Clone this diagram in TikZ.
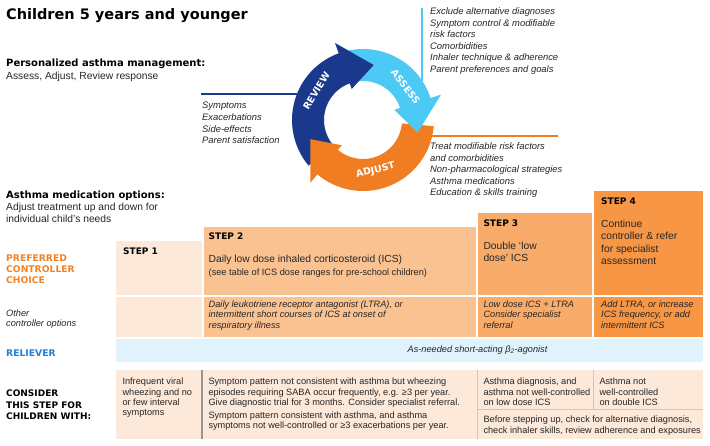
\documentclass[tikz,border=0pt]{standalone}
\usepackage{fontspec}
\setmainfont{Liberation Sans}
\newfontfamily\heavyfont{DejaVu Sans}
\usepackage{xcolor}
\usepackage{tikz}
\usetikzlibrary{positioning, calc}
\definecolor{reviewblue}{RGB}{27,57,140}
\definecolor{assessblue}{RGB}{76,201,245}
\definecolor{adjustorange}{RGB}{241,125,34}
\definecolor{stepone}{RGB}{253,233,218}
\definecolor{steptwo}{RGB}{250,193,145}
\definecolor{stepthree}{RGB}{249,171,106}
\definecolor{stepfour}{RGB}{247,150,68}
\definecolor{relieverfill}{RGB}{224,242,251}
\definecolor{relievertext}{RGB}{30,128,218}
\definecolor{prefcolor}{RGB}{243,130,36}
\definecolor{inktext}{RGB}{38,38,38}
\definecolor{sepgray}{RGB}{150,150,150}
\definecolor{sepgraylight}{RGB}{200,200,200}

\begin{document}
\begin{tikzpicture}[
    x=1pt, y=-1pt,
    heading/.style={anchor=base west, inner sep=0pt, text=black, font=\heavyfont\bfseries\fontsize{10}{12}\selectfont},
    plain/.style={anchor=north west, inner sep=0pt, align=left, text=inktext, font=\fontsize{10.3}{12}\selectfont},
    cyclelist/.style={anchor=north west, inner sep=0pt, align=left, text=inktext, font=\fontsize{9.4}{11.6}\selectfont\itshape},
    rowlabel/.style={anchor=north west, inner sep=0pt, align=left, font=\heavyfont\bfseries\fontsize{9.2}{10.8}\selectfont},
    cell/.style={rectangle, anchor=north west, inner sep=0pt, outer sep=0pt},
    steplabel/.style={inner sep=0pt, text=black, font=\heavyfont\bfseries\fontsize{9}{11}\selectfont},
    steptext/.style={inner sep=0pt, align=left, text=inktext, font=\fontsize{10.3}{12.5}\selectfont},
    optext/.style={inner sep=0pt, align=left, text=inktext, font=\fontsize{9.2}{10.3}\selectfont\itshape},
    withtext/.style={inner sep=0pt, align=left, text=inktext, font=\fontsize{9.2}{10.3}\selectfont},
    arcword/.style={inner sep=0pt, text=white, font=\heavyfont\bfseries\fontsize{9.5}{11}\selectfont},
    link/.style={line width=1.5pt}
]
    \useasboundingbox[fill=white] (0,0) rectangle (710,446);

    \node[heading, font=\heavyfont\bfseries\fontsize{14.5}{17}\selectfont] (title) at (6,19.5) {Children 5 years and younger};
    \node[heading] (pam) at (6,66.7) {Personalized asthma management:};
    \node[plain, anchor=base west] (pamsub) at (6,79.5) {Assess, Adjust, Review response};

    \node[cyclelist] (revlist) at (202,102.2) {Symptoms\\Exacerbations\\Side-effects\\Parent satisfaction};
    \node[cyclelist, font=\fontsize{9.4}{11.5}\selectfont\itshape] (asslist) at (430,7.9) {Exclude alternative diagnoses\\Symptom control \& modifiable\\risk factors\\Comorbidities\\Inhaler technique \& adherence\\Parent preferences and goals};
    \node[cyclelist] (adjlist) at (430,142.5) {Treat modifiable risk factors\\and comorbidities\\Non-pharmacological strategies\\Asthma medications\\Education \& skills training};

    \coordinate (C) at (363,120);
    \coordinate (revend) at (201,94);
    \coordinate (assend) at (422,8);
    \coordinate (adjend) at (558,136);
    \coordinate (revtouch) at ($(C)+(201.5:71)$);
    \coordinate (asstouch) at ($(C)+(326.2:71)$);
    \coordinate (adjtouch) at ($(C)+(13:71)$);
    \draw[link, reviewblue, line width=1.8pt] (revend) -- (revtouch |- revend);
    \draw[link, assessblue] (assend) -- (assend |- asstouch);
    \draw[link, adjustorange] (adjend) -- (adjtouch |- adjend);

    \fill[reviewblue] ($(C)+(140:71)$) arc[start angle=140, end angle=252, radius=71] -- ($(C)+(252:39)$) arc[start angle=252, end angle=140, radius=39] -- cycle;
    \fill[assessblue] ($(C)+(258:71)$) arc[start angle=258, end angle=344, radius=71] -- ($(C)+(344:39)$) arc[start angle=344, end angle=258, radius=39] -- cycle;
    \fill[adjustorange] ($(C)+(5:71)$) arc[start angle=5, end angle=132, radius=71] -- ($(C)+(132:39)$) arc[start angle=132, end angle=5, radius=39] -- cycle;
    \fill[reviewblue] ($(C)+(250:33)$) -- ($(C)+(250:82)$) -- ($(C)+(281:56)$) -- cycle;
    \fill[assessblue] ($(C)+(342:33)$) -- ($(C)+(342:82)$) -- ($(C)+(13:56)$) -- cycle;
    \fill[adjustorange] ($(C)+(130:33)$) -- ($(C)+(130:82)$) -- ($(C)+(160:56)$) -- cycle;
    \node[arcword, rotate=58] (revword) at ($(C)+(212:55)$) {REVIEW};
    \node[arcword, rotate=-52] (assword) at ($(C)+(322:54)$) {ASSESS};
    \node[arcword, rotate=14] (adjword) at ($(C)+(76:52)$) {ADJUST};

    \node[heading] (amo) at (6,198.3) {Asthma medication options:};
    \node[plain] (amosub) at (6,203.3) {Adjust treatment up and down for\\individual child's needs};
    \node[rowlabel, text=prefcolor] (pref) at (6,254.9) {PREFERRED\\CONTROLLER\\CHOICE};
    \node[optext, anchor=north west] (other) at (6,309.4) {Other\\controller options};
    \node[heading, text=relievertext, font=\heavyfont\bfseries\fontsize{9.2}{11}\selectfont] (reliever) at (6,356.3) {RELIEVER};
    \node[rowlabel, text=black, font=\heavyfont\bfseries\fontsize{9}{11.3}\selectfont] (consider) at (6,390.1) {CONSIDER\\THIS STEP FOR\\CHILDREN WITH:};

    \node[cell, minimum width=86pt, minimum height=54pt, fill=stepone] (s1) at (116,241) {};
    \node[cell, minimum width=272pt, minimum height=67.5pt, fill=steptwo] (s2) at (204,227.5) {};
    \node[cell, minimum width=114pt, minimum height=82pt, fill=stepthree] (s3) at (478,213) {};
    \node[cell, minimum width=109pt, minimum height=104pt, fill=stepfour] (s4) at (594,191) {};
    \node[cell, minimum width=86pt, minimum height=40pt, fill=stepone] (o1) at (116,297) {};
    \node[cell, minimum width=272pt, minimum height=40pt, fill=steptwo] (o2) at (204,297) {};
    \node[cell, minimum width=114pt, minimum height=40pt, fill=stepthree] (o3) at (478,297) {};
    \node[cell, minimum width=109pt, minimum height=40pt, fill=stepfour] (o4) at (594,297) {};
    \node[cell, minimum width=587pt, minimum height=23pt, fill=relieverfill] (rel) at (116,339) {};

    \node[steplabel, below right=7pt and 7pt of s1.north west] (s1l) {STEP 1};
    \node[steplabel, below right=5.5pt and 4.5pt of s2.north west] (s2l) {STEP 2};
    \node[steptext, below right=27.8pt and 4.5pt of s2.north west] (s2t) {Daily low dose inhaled corticosteroid (ICS)};
    \node[withtext, below right=41.6pt and 4.5pt of s2.north west] (s2n) {(see table of ICS dose ranges for pre-school children)};
    \node[steplabel, below right=6.7pt and 5.3pt of s3.north west] (s3l) {STEP 3};
    \node[steptext, below right=28.6pt and 5.3pt of s3.north west] (s3t) {Double `low\\dose' ICS};
    \node[steplabel, below right=6.7pt and 7pt of s4.north west] (s4l) {STEP 4};
    \node[steptext, below right=28.6pt and 7pt of s4.north west] (s4t) {Continue\\controller \& refer\\for specialist\\assessment};

    \node[optext, below right=3.7pt and 4.5pt of o2.north west] (o2t) {Daily leukotriene receptor antagonist (LTRA), or\\intermittent short courses of ICS at onset of\\respiratory illness};
    \node[optext, below right=3.7pt and 5.3pt of o3.north west] (o3t) {Low dose ICS + LTRA\\Consider specialist\\referral};
    \node[optext, below right=3.7pt and 7pt of o4.north west] (o4t) {Add LTRA, or increase\\ICS frequency, or add\\intermittent ICS};
    \node[optext, anchor=base] (relt) at ($(rel.north west)+(361.5,13.5)$) {As-needed short-acting β\textsubscript{2}-agonist};

    \node[cell, minimum width=86pt, minimum height=68.5pt, fill=stepone] (c1) at (116,370) {};
    \node[cell, minimum width=275pt, minimum height=68.5pt, fill=stepone] (c2) at (202,370) {};
    \node[cell, minimum width=116pt, minimum height=39pt, fill=stepone] (c3) at (477,370) {};
    \node[cell, minimum width=110pt, minimum height=39pt, fill=stepone] (c4) at (593,370) {};
    \node[cell, minimum width=226pt, minimum height=29.5pt, fill=stepone] (c5) at (477,409) {};
    \draw[sepgray, line width=1.3pt] (c1.north east) -- (c1.south east);
    \draw[sepgraylight, line width=0.8pt] (c2.north east) -- (c2.south east);
    \draw[sepgraylight, line width=0.8pt] (c3.north east) -- (c3.south east);
    \draw[sepgraylight, line width=0.8pt] (c5.north west) -- (c5.north east);

    \node[withtext, below right=8pt and 6.3pt of c1.north west] (c1t) {Infrequent viral\\wheezing and no\\or few interval\\symptoms};
    \node[withtext, below right=8pt and 6.3pt of c2.north west] (c2t) {Symptom pattern not consistent with asthma but wheezing\\episodes requiring SABA occur frequently, e.g. ≥3 per year.\\Give diagnostic trial for 3 months. Consider specialist referral.};
    \node[withtext, below right=41.7pt and 6.3pt of c2.north west] (c2u) {Symptom pattern consistent with asthma, and asthma\\symptoms not well-controlled or ≥3 exacerbations per year.};
    \node[withtext, below right=8pt and 6.3pt of c3.north west] (c3t) {Asthma diagnosis, and\\asthma not well-controlled\\on low dose ICS};
    \node[withtext, below right=8pt and 6.3pt of c4.north west] (c4t) {Asthma not\\well-controlled\\on double ICS};
    \node[withtext, below right=7pt and 6.3pt of c5.north west] (c5t) {Before stepping up, check for alternative diagnosis,\\check inhaler skills, review adherence and exposures};
\end{tikzpicture}
\end{document}
